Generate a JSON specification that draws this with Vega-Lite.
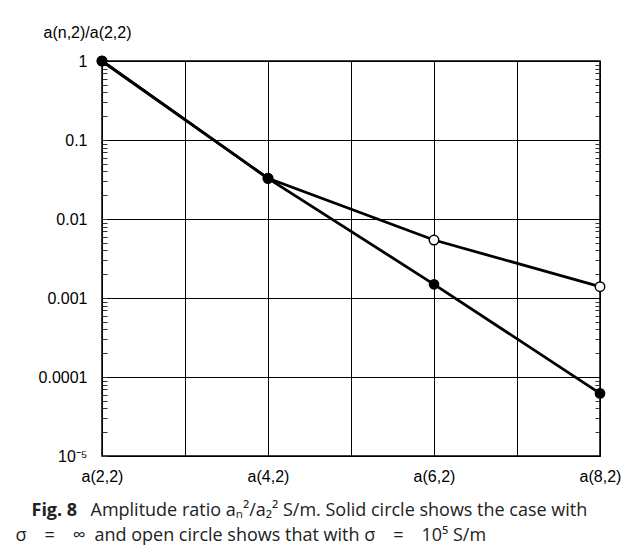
{
  "$schema": "https://vega.github.io/schema/vega-lite/v6.json",
  "width": 498,
  "height": 395,
  "autosize": {"type": "none"},
  "padding": {"left": 102, "top": 61, "right": 37, "bottom": 100},
  "background": "white",
  "config": {
    "view": {"stroke": "#000", "strokeWidth": 1.5},
    "font": "Liberation Sans"
  },
  "data": {
    "values": [
      {"n": 2, "ratio": 1, "case": "open"},
      {"n": 4, "ratio": 0.0327, "case": "open"},
      {"n": 6, "ratio": 0.00542, "case": "open"},
      {"n": 8, "ratio": 0.00139, "case": "open"},
      {"n": 2, "ratio": 1, "case": "solid"},
      {"n": 4, "ratio": 0.0327, "case": "solid"},
      {"n": 6, "ratio": 0.00149, "case": "solid"},
      {"n": 8, "ratio": 0.000062, "case": "solid"}
    ]
  },
  "resolve": {"axis": {"x": "independent", "y": "independent"}},
  "layer": [
    {
      "mark": {"type": "line", "color": "#000", "strokeWidth": 2.8},
      "encoding": {
        "x": {
          "field": "n", "type": "quantitative",
          "scale": {"domain": [2, 8], "nice": false, "zero": false},
          "axis": {
            "orient": "bottom",
            "values": [2, 3, 4, 5, 6, 7, 8],
            "labelExpr": "datum.value % 2 == 0 ? 'a(' + datum.value + ',2)' : ''",
            "tickSize": 0, "ticks": false, "domain": false,
            "grid": true, "gridColor": "#000", "gridWidth": 1, "gridOpacity": 1,
            "labelFont": "Liberation Sans", "labelFontSize": 16, "labelColor": "#000",
            "labelPadding": 12, "labelFlush": false, "labelOverlap": false,
            "title": "Amplitude ratio aₙ²/a₂² S/m. Solid circle shows the case with",
            "titleFont": "Open Sans", "titleFontSize": 18, "titleFontWeight": "normal",
            "titleColor": "#222", "titleAlign": "left", "titleBaseline": "alphabetic",
            "titleX": -12, "titleY": 59
          }
        },
        "y": {
          "field": "ratio", "type": "quantitative",
          "scale": {"type": "log", "domain": [0.00001, 1], "nice": false},
          "axis": {
            "orient": "left",
            "values": [0.00001, 0.00002, 0.00003, 0.00004, 0.00005, 0.00006, 0.00007, 0.00008, 0.00009,
                       0.0001, 0.0002, 0.0003, 0.0004, 0.0005, 0.0006, 0.0007, 0.0008, 0.0009,
                       0.001, 0.002, 0.003, 0.004, 0.005, 0.006, 0.007, 0.008, 0.009,
                       0.01, 0.02, 0.03, 0.04, 0.05, 0.06, 0.07, 0.08, 0.09,
                       0.1, 0.2, 0.3, 0.4, 0.5, 0.6, 0.7, 0.8, 0.9, 1],
            "labelExpr": "abs(log(datum.value)/LN10 - round(log(datum.value)/LN10)) < 0.01 ? (datum.value > 0.5 ? '1' : datum.value > 0.05 ? '0.1' : datum.value > 0.005 ? '0.01' : datum.value > 0.0005 ? '0.001' : datum.value > 0.00005 ? '0.0001' : '10⁻⁵') : ''",
            "tickSize": -5, "tickColor": "#333", "tickWidth": 1, "domain": false,
            "grid": true, "gridColor": "#000", "gridWidth": 1,
            "gridOpacity": {"condition": {"test": "abs(log(datum.value)/LN10 - round(log(datum.value)/LN10)) < 0.01", "value": 1}, "value": 0},
            "labelFont": "Liberation Sans", "labelFontSize": 16, "labelColor": "#000",
            "labelPadding": 20, "labelFlush": false, "labelOverlap": false, "labelBaseline": "middle",
            "title": "a(n,2)/a(2,2)",
            "titleFont": "Liberation Sans", "titleFontSize": 16, "titleFontWeight": "normal",
            "titleColor": "#000", "titleAngle": 0, "titleAlign": "left", "titleBaseline": "alphabetic",
            "titleX": -59, "titleY": -24
          }
        },
        "detail": {"field": "case"}
      }
    },
    {
      "transform": [{"filter": "datum.case == 'open'"}],
      "mark": {"type": "point", "filled": true, "fill": "#fff", "stroke": "#000", "strokeWidth": 1.5, "size": 90, "opacity": 1},
      "encoding": {
        "x": {"field": "n", "type": "quantitative", "axis": null},
        "y": {"field": "ratio", "type": "quantitative", "axis": null}
      }
    },
    {
      "transform": [{"filter": "datum.case == 'solid'"}],
      "mark": {"type": "circle", "color": "#000", "size": 115, "opacity": 1},
      "encoding": {
        "x": {
          "field": "n", "type": "quantitative",
          "axis": {
            "orient": "top", "labels": false, "ticks": false, "domain": false, "grid": false,
            "title": "Fig. 8",
            "titleFont": "Open Sans", "titleFontSize": 18, "titleFontWeight": "bold",
            "titleColor": "#222", "titleAlign": "left", "titleBaseline": "alphabetic",
            "titleX": -71, "titleY": 454
          }
        },
        "y": {
          "field": "ratio", "type": "quantitative",
          "axis": {
            "orient": "right",
            "values": [0.00002, 0.00003, 0.00004, 0.00005, 0.00006, 0.00007, 0.00008, 0.00009,
                       0.0002, 0.0003, 0.0004, 0.0005, 0.0006, 0.0007, 0.0008, 0.0009,
                       0.002, 0.003, 0.004, 0.005, 0.006, 0.007, 0.008, 0.009,
                       0.02, 0.03, 0.04, 0.05, 0.06, 0.07, 0.08, 0.09,
                       0.2, 0.3, 0.4, 0.5, 0.6, 0.7, 0.8, 0.9],
            "labels": false, "tickSize": -5, "tickColor": "#333", "tickWidth": 1,
            "domain": false, "grid": false,
            "title": "σ\u2003=\u2003∞\u2002and open circle shows that with σ\u2003=\u200310⁵ S/m",
            "titleFont": "Open Sans", "titleFontSize": 18, "titleFontWeight": "normal",
            "titleColor": "#222", "titleAngle": 0, "titleAlign": "left", "titleBaseline": "alphabetic",
            "titleX": -585, "titleY": 479
          }
        }
      }
    }
  ]
}
